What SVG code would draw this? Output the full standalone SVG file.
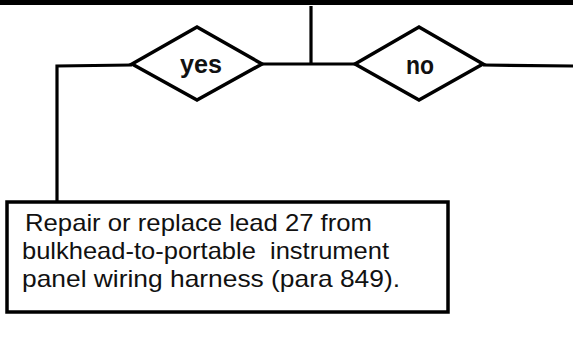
<svg xmlns="http://www.w3.org/2000/svg" width="573" height="364" viewBox="0 0 573 364">
<style>
.ln{fill:none;stroke:#000;stroke-width:3.2}
.dm{fill:#fff;stroke:#000;stroke-width:3.5;stroke-linejoin:miter}
.bx{fill:#fff;stroke:#000;stroke-width:3.5}
.lbl{font-family:"Liberation Sans",Arial,sans-serif;font-size:26px;font-weight:bold;fill:#111;text-anchor:middle}
.txt{font-family:"Liberation Sans",Arial,sans-serif;font-size:24px;fill:#111;white-space:pre}
</style>
<rect x="0" y="0" width="573" height="364" fill="#fff"/>
<rect id="topbar" x="0" y="0" width="573" height="5" fill="#000"/>
<g id="connectors">
<polyline class="ln" points="311,6 311,64"/>
<polyline class="ln" points="262,64 355,64"/>
<polyline class="ln" points="132,65 57,66 57,202"/>
<polyline class="ln" points="483,65 573,66"/>
</g>
<g id="yes">
<polygon class="dm" points="132,64 197,27 262,64 197,100"/>
<text class="lbl" x="201" y="73" textLength="42" lengthAdjust="spacingAndGlyphs">yes</text>
</g>
<g id="no">
<polygon class="dm" points="355,64 419,27 483,64 419,100"/>
<text class="lbl" x="420" y="74" textLength="28" lengthAdjust="spacingAndGlyphs">no</text>
</g>
<g id="repair">
<rect class="bx" x="7" y="202" width="441" height="110"/>
<text class="txt" x="25" y="231" textLength="347" lengthAdjust="spacingAndGlyphs">Repair or replace lead 27 from</text>
<text class="txt" x="22" y="259" textLength="367" lengthAdjust="spacingAndGlyphs">bulkhead-to-portable  instrument</text>
<text class="txt" x="22" y="287" textLength="378" lengthAdjust="spacingAndGlyphs">panel wiring harness (para 849).</text>
</g>
</svg>
